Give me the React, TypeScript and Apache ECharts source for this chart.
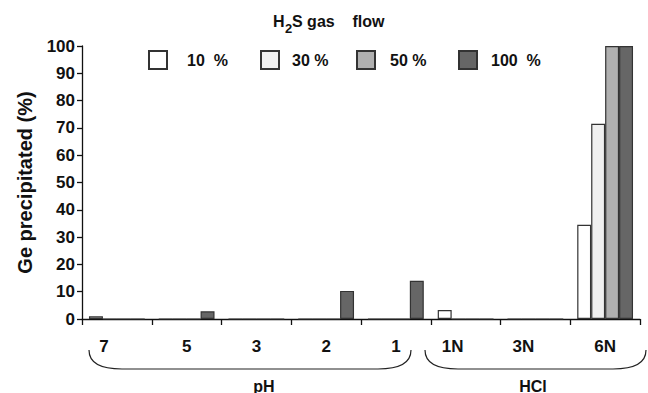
import React, { useEffect, useRef } from "react";
import * as echarts from "echarts";

const categories = ["7", "5", "3", "2", "1", "1N", "3N", "6N"];
const seriesNames = ["10  %", "30 %", "50 %", "100  %"];
const flow10 = [1, 0, 0, 0, 0, 3.3, 0, 34.5];
const flow30 = [0, 0, 0, 0, 0, 0, 0, 71.5];
const flow50 = [0, 0, 0, 0, 0, 0, 0, 100];
const flow100 = [0, 2.8, 0, 10.3, 14, 0, 0, 100];
const seriesData = [flow10, flow30, flow50, flow100];
const seriesColors = ["#ffffff", "#f0f0f0", "#b0b0b0", "#666666"];
const groupLabels = ["pH", "HCl"];

const FONT = "'Liberation Sans', Arial, sans-serif";

export default function App() {
  const ref = useRef<HTMLDivElement>(null);
  useEffect(() => {
    if (!ref.current) return;
    const chart = echarts.init(ref.current, undefined, { renderer: "svg" });
    const legendLefts = [148, 260, 356, 458];
    const legendPads = [15, 8, 10, 9];
    const labelBase = { fontSize: 16, fontWeight: "bold", color: "#111", fontFamily: FONT };
    const option: any = {
      animation: false,
      backgroundColor: "#ffffff",
      textStyle: { fontFamily: FONT },
      grid: { left: 82, right: 8, top: 46, bottom: 74 },
      legend: seriesNames.map((n, i) => ({
        data: [n],
        left: legendLefts[i],
        top: 50,
        padding: 0,
        itemWidth: 18,
        itemHeight: 18,
        icon: "rect",
        selectedMode: false,
        textStyle: {
          fontFamily: FONT,
          fontSize: 16,
          fontWeight: "bold",
          color: "#111",
          padding: [0, 0, 0, legendPads[i]],
        },
      })),
      xAxis: {
        type: "category",
        data: categories,
        axisLine: { lineStyle: { color: "#111", width: 1.3 } },
        axisTick: { show: true, length: 6, lineStyle: { color: "#111", width: 1.3 } },
        axisLabel: {
          interval: 0,
          hideOverlap: false,
          margin: 19,
          ...labelBase,
          fontSize: 17,
          formatter: (v: string) => {
            if (v === "7" || v === "1N") return `{l|${v}}`;
            if (v === "3N") return `{m|${v}}`;
            return v;
          },
          rich: {
            l: { ...labelBase, fontSize: 17, padding: [0, 26, 0, 0] },
            m: { ...labelBase, fontSize: 17, padding: [0, 24, 0, 0] },
          },
        },
        splitLine: { show: false },
      },
      yAxis: {
        type: "value",
        min: 0,
        max: 100,
        interval: 10,
        name: "Ge precipitated (%)",
        nameLocation: "middle",
        nameGap: 47,
        nameTextStyle: {
          fontSize: 20,
          fontWeight: "bold",
          color: "#111",
          fontFamily: FONT,
        },
        axisLine: { show: true, lineStyle: { color: "#111", width: 1.3 } },
        axisTick: { show: true, length: 5, lineStyle: { color: "#111", width: 1.3 } },
        axisLabel: {
          margin: 7,
          ...labelBase,
          fontSize: 17,
        },
        splitLine: { show: false },
      },
      series: seriesNames.map((n, i) => ({
        name: n,
        type: "bar",
        data: seriesData[i],
        barGap: "0%",
        barCategoryGap: "20%",
        itemStyle: {
          color: seriesColors[i],
          borderColor: "#333",
          borderWidth: 1.2,
        },
      })),
      graphic: [
        {
          type: "group",
          silent: true,
          children: [
            { type: "text", x: 273, y: 13, style: { text: "H", font: `bold 16px ${FONT}`, fill: "#111" } },
            { type: "text", x: 285, y: 22, style: { text: "2", font: `bold 13px ${FONT}`, fill: "#111" } },
            { type: "text", x: 292, y: 13, style: { text: "S gas    flow", font: `bold 16px ${FONT}`, fill: "#111" } },
            // pH bracket
            { type: "bezierCurve", shape: { x1: 89, y1: 350, cpx1: 89, cpy1: 363, cpx2: 100, cpy2: 369, x2: 122, y2: 369 }, style: { stroke: "#222", lineWidth: 1.2, fill: null } },
            { type: "line", shape: { x1: 122, y1: 369, x2: 378, y2: 369 }, style: { stroke: "#222", lineWidth: 1.2 } },
            { type: "bezierCurve", shape: { x1: 378, y1: 369, cpx1: 400, cpy1: 369, cpx2: 411, cpy2: 363, x2: 411, y2: 350 }, style: { stroke: "#222", lineWidth: 1.2, fill: null } },
            // HCl bracket
            { type: "bezierCurve", shape: { x1: 425, y1: 350, cpx1: 425, cpy1: 363, cpx2: 436, cpy2: 369, x2: 458, y2: 369 }, style: { stroke: "#222", lineWidth: 1.2, fill: null } },
            { type: "line", shape: { x1: 458, y1: 369, x2: 613, y2: 369 }, style: { stroke: "#222", lineWidth: 1.2 } },
            { type: "bezierCurve", shape: { x1: 613, y1: 369, cpx1: 635, cpy1: 369, cpx2: 646, cpy2: 363, x2: 646, y2: 350 }, style: { stroke: "#222", lineWidth: 1.2, fill: null } },
            { type: "text", x: 264, y: 386, style: { text: groupLabels[0], font: `bold 16px ${FONT}`, fill: "#111", align: "center", verticalAlign: "middle" } },
            { type: "text", x: 533, y: 386, style: { text: groupLabels[1], font: `bold 16px ${FONT}`, fill: "#111", align: "center", verticalAlign: "middle" } },
          ],
        },
      ],
    };
    chart.setOption(option);
    return () => chart.dispose();
  }, []);
  return (
    <div
      ref={ref}
      style={{ position: "fixed", left: 0, top: 0, width: 648, height: 393, background: "#fff" }}
    />
  );
}
